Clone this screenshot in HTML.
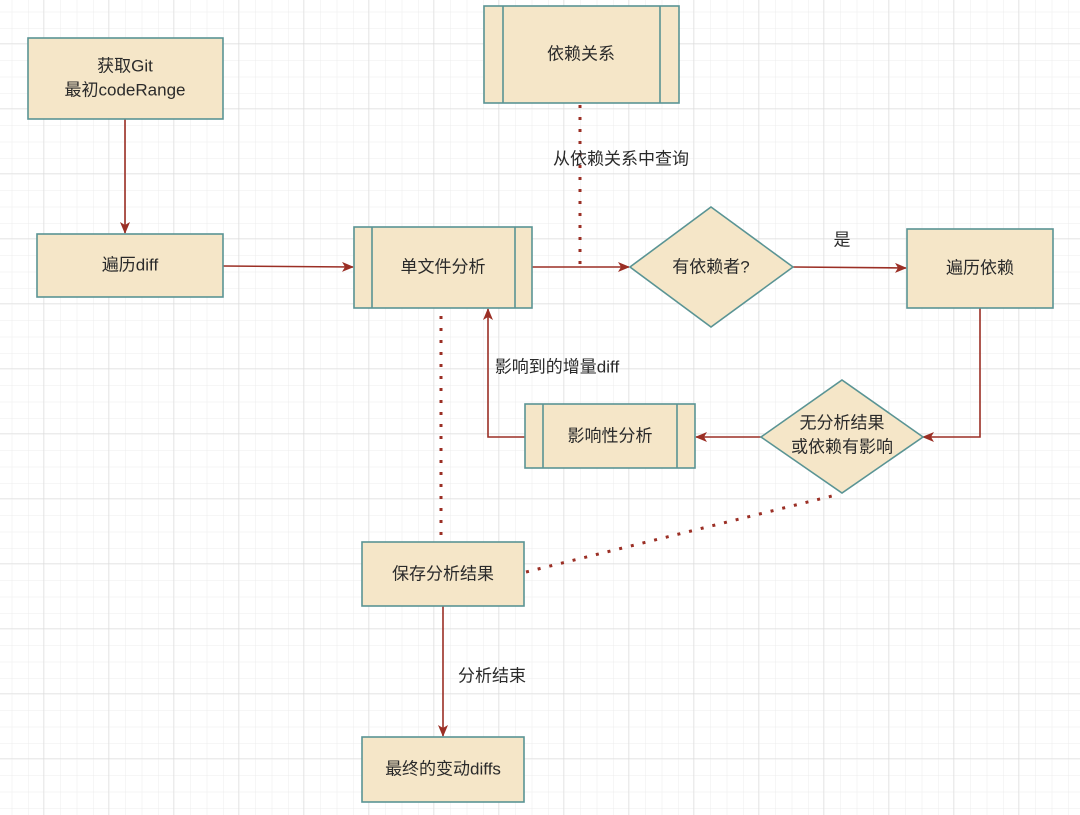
<!DOCTYPE html>
<html><head><meta charset="utf-8"><style>
html,body{margin:0;padding:0;background:#fff}
svg{display:block}
text{font-family:"Liberation Sans","Noto Sans CJK SC",sans-serif;font-size:17px;fill:#2a2a2a;text-anchor:middle;dominant-baseline:middle}
</style></head><body>
<svg width="1080" height="815" viewBox="0 0 1080 815" xmlns="http://www.w3.org/2000/svg">
<defs>
<pattern id="minor" width="16.25" height="16.25" patternUnits="userSpaceOnUse" x="-4" y="-4">
<path d="M16.25 0V16.25M0 16.25H16.25" stroke="#ececec" stroke-width="1" fill="none"/>
</pattern>
<pattern id="major" width="65" height="65" patternUnits="userSpaceOnUse" x="-21" y="-21">
<path d="M65 0V65M0 65H65" stroke="#dadada" stroke-width="1" fill="none"/>
</pattern>
<marker id="ah" markerWidth="12" markerHeight="10" refX="11" refY="5" orient="auto" markerUnits="userSpaceOnUse">
<path d="M0 0L12 5L0 10L3 5Z" fill="#9b2f25"/>
</marker>
</defs>
<rect width="1080" height="815" fill="url(#minor)"/>
<rect width="1080" height="815" fill="url(#major)"/>

<g stroke="#9b2f25" stroke-width="1.6" fill="none">
<path d="M125 119V233" marker-end="url(#ah)"/>
<path d="M223 266L353 267" marker-end="url(#ah)"/>
<path d="M532 267H629" marker-end="url(#ah)"/>
<path d="M793 267L906 268" marker-end="url(#ah)"/>
<path d="M980 308V437H923" marker-end="url(#ah)"/>
<path d="M761 437H696" marker-end="url(#ah)"/>
<path d="M525 437H488V309" marker-end="url(#ah)"/>
<path d="M443 606V736" marker-end="url(#ah)"/>
</g>
<g stroke="#9b2f25" stroke-width="3" fill="none" stroke-dasharray="3 9">
<path d="M580 105V266"/>
<path d="M441 316V542"/>
<path d="M526 572L840 494"/>
</g>

<g fill="#f5e6c8" stroke="#5a9494" stroke-width="1.6">
<rect x="28" y="38" width="195" height="81"/>
<rect x="37" y="234" width="186" height="63"/>
<rect x="354" y="227" width="178" height="81"/>
<path d="M372 227V308M515 227V308" fill="none"/>
<rect x="484" y="6" width="195" height="97"/>
<path d="M503 6V103M660 6V103" fill="none"/>
<path d="M711 207L793 267L711 327L630 267Z"/>
<rect x="907" y="229" width="146" height="79"/>
<path d="M842 380L923 437L842 493L761 437Z"/>
<rect x="525" y="404" width="170" height="64"/>
<path d="M543 404V468M677 404V468" fill="none"/>
<rect x="362" y="542" width="162" height="64"/>
<rect x="362" y="737" width="162" height="65"/>
</g>

<text x="125" y="67">获取Git</text>
<text x="125" y="91">最初codeRange</text>
<text x="130" y="266">遍历diff</text>
<text x="443" y="268">单文件分析</text>
<text x="581" y="55">依赖关系</text>
<text x="711" y="268">有依赖者?</text>
<text x="980" y="269">遍历依赖</text>
<text x="842" y="424">无分析结果</text>
<text x="842" y="448">或依赖有影响</text>
<text x="610" y="437">影响性分析</text>
<text x="443" y="575">保存分析结果</text>
<text x="443" y="770">最终的变动diffs</text>
<text x="621" y="160">从依赖关系中查询</text>
<text x="842" y="241">是</text>
<text x="557" y="368">影响到的增量diff</text>
<text x="492" y="677">分析结束</text>
</svg>
</body></html>
